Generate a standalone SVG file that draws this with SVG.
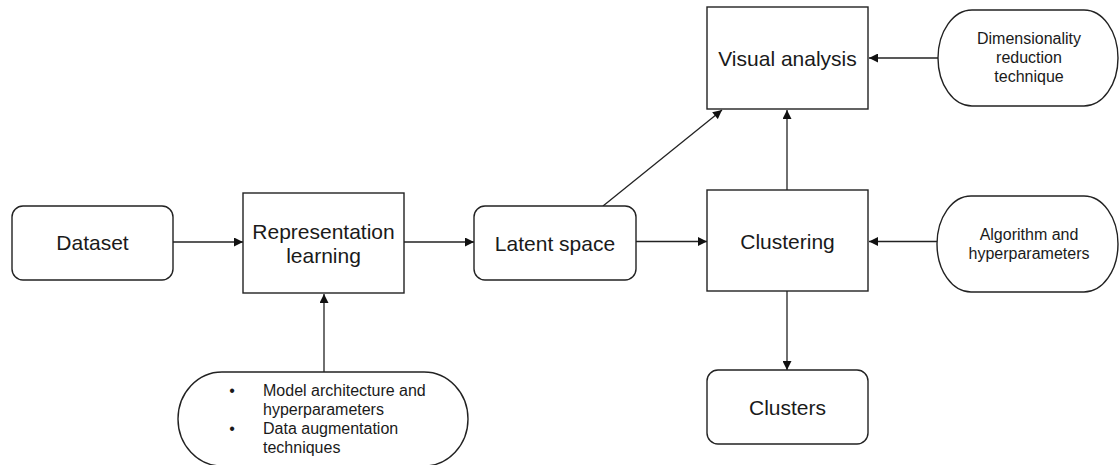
<svg xmlns="http://www.w3.org/2000/svg" width="1120" height="465" viewBox="0 0 1120 465">
<style>
.box{fill:#fff;stroke:#222;stroke-width:1.4}
.edge{fill:none;stroke:#222;stroke-width:1.3}
.t{font-family:"Liberation Sans",Arial,Helvetica,sans-serif;fill:#1a1a1a;text-anchor:middle}
.big{font-size:21px}
.small{font-size:16px}
.left{text-anchor:start}
</style>
<defs>
<marker id="arr" viewBox="0 0 10 10" refX="10" refY="5" markerWidth="10" markerHeight="9" markerUnits="userSpaceOnUse" orient="auto">
<path d="M0,0 L10,5 L0,10 z" fill="#111"/>
</marker>
</defs>
<rect width="1120" height="465" fill="#fff"/>
<g id="connectors">
<line class="edge" x1="173" y1="242" x2="243" y2="242" marker-end="url(#arr)"/>
<line class="edge" x1="404" y1="242" x2="474" y2="242" marker-end="url(#arr)"/>
<line class="edge" x1="636" y1="241.5" x2="707" y2="241.5" marker-end="url(#arr)"/>
<line class="edge" x1="938" y1="58" x2="869" y2="58" marker-end="url(#arr)"/>
<line class="edge" x1="937" y1="241.5" x2="869" y2="241.5" marker-end="url(#arr)"/>
<line class="edge" x1="787" y1="190" x2="787" y2="110" marker-end="url(#arr)"/>
<line class="edge" x1="787" y1="291" x2="787" y2="370" marker-end="url(#arr)"/>
<line class="edge" x1="603" y1="206" x2="722" y2="110" marker-end="url(#arr)"/>
<line class="edge" x1="324" y1="372" x2="324" y2="294" marker-end="url(#arr)"/>
</g>
<g id="dataset">
<rect class="box" x="12" y="206" width="161" height="74" rx="11" ry="11"/>
<text class="t big" x="92.5" y="249.5">Dataset</text>
</g>
<g id="representation-learning">
<rect class="box" x="243" y="193" width="161" height="100"/>
<text class="t big" x="323.5" y="238.5">Representation</text>
<text class="t big" x="323.5" y="262.5">learning</text>
</g>
<g id="latent-space">
<rect class="box" x="474" y="206" width="162" height="74" rx="11" ry="11"/>
<text class="t big" x="555" y="250.5">Latent space</text>
</g>
<g id="visual-analysis">
<rect class="box" x="707" y="7" width="161" height="102"/>
<text class="t big" x="787.5" y="65.5">Visual analysis</text>
</g>
<g id="clustering">
<rect class="box" x="707" y="190" width="161" height="101"/>
<text class="t big" x="787.5" y="248.5">Clustering</text>
</g>
<g id="clusters">
<rect class="box" x="707" y="370" width="161" height="74" rx="11" ry="11"/>
<text class="t big" x="787.5" y="414.5">Clusters</text>
</g>
<g id="dimensionality-reduction">
<rect class="box" x="938" y="10" width="180" height="96" rx="34" ry="48"/>
<text class="t small" x="1029" y="44">Dimensionality</text>
<text class="t small" x="1029" y="63">reduction</text>
<text class="t small" x="1029" y="82">technique</text>
</g>
<g id="algorithm-hyperparameters">
<rect class="box" x="937" y="196" width="181" height="96" rx="34" ry="48"/>
<text class="t small" x="1029" y="240">Algorithm and</text>
<text class="t small" x="1029" y="259">hyperparameters</text>
</g>
<g id="model-inputs">
<rect class="box" x="178" y="372" width="290" height="94" rx="44" ry="47"/>
<text class="t small" x="232" y="396">•</text>
<text class="t small left" x="263" y="396">Model architecture and</text>
<text class="t small left" x="263" y="415">hyperparameters</text>
<text class="t small" x="232" y="434">•</text>
<text class="t small left" x="263" y="434">Data augmentation</text>
<text class="t small left" x="263" y="453">techniques</text>
</g>
</svg>
